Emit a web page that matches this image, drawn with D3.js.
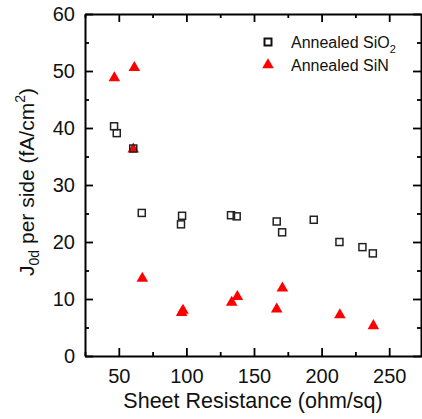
<!DOCTYPE html>
<html>
<head>
<meta charset="utf-8">
<script src="https://cdn.jsdelivr.net/npm/d3@7"></script>
<style>
  body { margin: 0; background: #fff; }
  text { font-family: "Liberation Sans", Arial, sans-serif; }
</style>
</head>
<body>
<div id="chart"></div>
<script>
// data
const sio2R = [46.5, 48.5, 60.7, 67.0, 96.8, 96.0, 133.0, 137.2, 166.8, 170.8, 194.2, 213.2, 230.2, 237.9];
const sio2J = [40.3, 39.1, 36.4, 25.1, 24.6, 23.1, 24.7, 24.5, 23.6, 21.7, 23.9, 20.0, 19.1, 18.0];
const sinR = [46.7, 61.5, 60.7, 67.4, 96.5, 97.5, 133.5, 137.7, 166.8, 171.0, 213.5, 238.3];
const sinJ = [48.8, 50.6, 36.3, 13.6, 7.6, 8.0, 9.4, 10.4, 8.2, 11.9, 7.2, 5.3];
const xMajor = [50, 100, 150, 200, 250];
const xMinor = [25, 75, 125, 175, 225, 275];
const yMajor = [0, 10, 20, 30, 40, 50, 60];
const yMinor = [5, 15, 25, 35, 45, 55];

const width = 422, height = 419;

const svg = d3.select("#chart").append("svg")
    .attr("width", width)
    .attr("height", height);

svg.append("rect").attr("width", width).attr("height", height).attr("fill", "#fff");

const x = d3.scaleLinear().domain([25, 275]).range([85, 423]);
const y = d3.scaleLinear().domain([0, 60]).range([356, 14]);

const xRight = x.range()[1] - 2;

function styleAxis(g) {
    g.selectAll(".domain").attr("stroke", "#000").attr("stroke-width", 2);
    g.selectAll(".tick line").attr("stroke", "#000").attr("stroke-width", 1.8);
    g.selectAll(".tick text").attr("fill", "#111").style("font-size", "20px")
        .style("font-family", "'Liberation Sans', Arial, sans-serif");
}

// bottom
svg.append("g").attr("transform", "translate(0,356)")
    .call(d3.axisBottom(x).tickValues(xMajor).tickSizeInner(-8).tickSizeOuter(0).tickPadding(13))
    .call(styleAxis);
svg.append("g").attr("transform", "translate(0,356)")
    .call(d3.axisBottom(x).tickValues(xMinor).tickSize(-4).tickFormat(""))
    .call(g => g.select(".domain").remove())
    .call(styleAxis);
// top
svg.append("g").attr("transform", "translate(0,14)")
    .call(d3.axisTop(x).tickValues(xMajor).tickSizeInner(-8).tickSizeOuter(0).tickFormat(""))
    .call(styleAxis);
svg.append("g").attr("transform", "translate(0,14)")
    .call(d3.axisTop(x).tickValues(xMinor).tickSize(-4).tickFormat(""))
    .call(g => g.select(".domain").remove())
    .call(styleAxis);
// left
svg.append("g").attr("transform", "translate(85,0)")
    .call(d3.axisLeft(y).tickValues(yMajor).tickSizeInner(-8).tickSizeOuter(0).tickPadding(10))
    .call(styleAxis);
svg.append("g").attr("transform", "translate(85,0)")
    .call(d3.axisLeft(y).tickValues(yMinor).tickSize(-4).tickFormat(""))
    .call(g => g.select(".domain").remove())
    .call(styleAxis);
// right
svg.append("g").attr("transform", `translate(${xRight},0)`)
    .call(d3.axisRight(y).tickValues(yMajor).tickSizeInner(-8).tickSizeOuter(0).tickFormat(""))
    .call(styleAxis);
svg.append("g").attr("transform", `translate(${xRight},0)`)
    .call(d3.axisRight(y).tickValues(yMinor).tickSize(-4).tickFormat(""))
    .call(g => g.select(".domain").remove())
    .call(styleAxis);

// axis titles
svg.append("text")
    .attr("x", 253).attr("y", 408)
    .attr("text-anchor", "middle")
    .attr("fill", "#111")
    .style("font-size", "21.5px")
    .text("Sheet Resistance (ohm/sq)");

const yTitle = svg.append("text")
    .attr("transform", "translate(34,182) rotate(-90)")
    .attr("text-anchor", "middle")
    .attr("fill", "#111")
    .style("font-size", "21px");
yTitle.append("tspan").text("J");
yTitle.append("tspan").attr("dy", 5).style("font-size", "14px").text("0d");
yTitle.append("tspan").attr("dy", -5).text(" per side (fA/cm");
yTitle.append("tspan").attr("dy", -9).style("font-size", "14px").text("2");
yTitle.append("tspan").attr("dy", 9).text(")");

// points
const sio2 = sio2R.map((r, i) => ({ r: r, j: sio2J[i] }));
const sin = sinR.map((r, i) => ({ r: r, j: sinJ[i] }));

const tri = d3.symbol().type(d3.symbolTriangle).size(58);

svg.selectAll(".sin")
    .data(sin)
    .enter()
    .append("path")
    .attr("class", "sin")
    .attr("d", tri)
    .attr("transform", d => `translate(${x(d.r)},${y(d.j)})`)
    .attr("fill", "#ff0000");

svg.selectAll(".sio2")
    .data(sio2)
    .enter()
    .append("rect")
    .attr("class", "sio2")
    .attr("x", d => x(d.r) - 3.5)
    .attr("y", d => y(d.j) - 3.5)
    .attr("width", 7)
    .attr("height", 7)
    .attr("fill", "none")
    .attr("stroke", "#222")
    .attr("stroke-width", 1.5);

// legend
const legend = svg.append("g").attr("transform", "translate(268,42)");
legend.append("rect")
    .attr("x", -3.5).attr("y", -3.5).attr("width", 7).attr("height", 7)
    .attr("fill", "none").attr("stroke", "#111").attr("stroke-width", 2);
legend.append("path")
    .attr("d", tri)
    .attr("transform", "translate(0,23)")
    .attr("fill", "#ff0000");

const l1 = legend.append("text")
    .attr("x", 23).attr("y", 6)
    .attr("fill", "#111")
    .style("font-size", "16px");
l1.append("tspan").text("Annealed SiO");
l1.append("tspan").attr("dy", 5).style("font-size", "11px").text("2");

legend.append("text")
    .attr("x", 23).attr("y", 29)
    .attr("fill", "#111")
    .style("font-size", "16px")
    .text("Annealed SiN");
</script>
</body>
</html>
